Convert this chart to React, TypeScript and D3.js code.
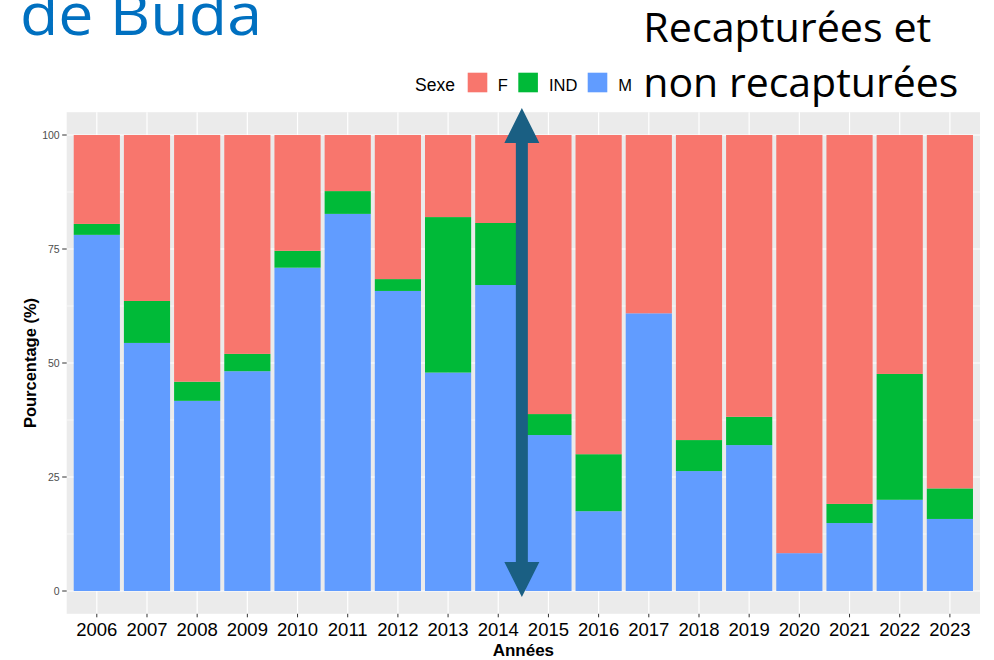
import React from "react";
import * as d3 from "d3";

// years on the x axis
const years = [
  "2006", "2007", "2008", "2009", "2010", "2011", "2012", "2013", "2014",
  "2015", "2016", "2017", "2018", "2019", "2020", "2021", "2022", "2023",
];

// percentages by sex
const pctM = [78.1, 54.4, 41.7, 48.2, 70.9, 82.7, 65.8, 47.9, 67.1, 34.2, 17.5, 60.9, 26.3, 32.0, 8.3, 14.9, 20.0, 15.8];
const pctIND = [2.4, 9.2, 4.2, 3.8, 3.7, 5.0, 2.6, 34.1, 13.6, 4.6, 12.5, 0, 6.8, 6.2, 0, 4.2, 27.6, 6.7];
const pctF = [19.5, 36.4, 54.1, 48.0, 25.4, 12.3, 31.6, 18.0, 19.3, 61.2, 70.0, 39.1, 66.9, 61.8, 91.7, 80.9, 52.4, 77.5];

const yTicks = [0, 25, 50, 75, 100];
const yMinor = [12.5, 37.5, 62.5, 87.5];

const sexes = ["F", "IND", "M"];
const colors: Record<string, string> = { F: "#F8766D", IND: "#00BA38", M: "#619CFF" };

const W = 994;
const H = 660;
const panel = { left: 66.7, right: 980, top: 112.2, bottom: 613.8 };

export default function App() {
  const rows = years.map((y, i) => ({ year: y, M: pctM[i], IND: pctIND[i], F: pctF[i] }));
  // M at the bottom, then IND, F on top
  const series = d3.stack<any>().keys(["M", "IND", "F"])(rows);

  const x = d3.scalePoint<string>().domain(years).range([panel.left, panel.right]).padding(0.6);
  const y = d3.scaleLinear().domain([-5, 105]).range([panel.bottom, panel.top]);
  const barW = x.step() * 0.92;

  // arrow sits between 2014 and 2015
  const ax = ((x("2014") as number) + (x("2015") as number)) / 2 - 1.5;
  const top = y(100) - 27;
  const bot = y(0) + 6;
  const hw = 17.5, hh = 35, sw = 6;
  const arrow = [
    [ax, top], [ax + hw, top + hh], [ax + sw, top + hh], [ax + sw, bot - hh],
    [ax + hw, bot - hh], [ax, bot], [ax - hw, bot - hh], [ax - sw, bot - hh],
    [ax - sw, top + hh], [ax - hw, top + hh],
  ];

  const legendKeys = [
    { k: "F", x: 467.7, tx: 497.7 },
    { k: "IND", x: 518.3, tx: 549 },
    { k: "M", x: 587.7, tx: 618.3 },
  ];

  return (
    <svg width={W} height={H} style={{ position: "absolute", left: 0, top: 0, background: "#fff" }}
      fontFamily="'Liberation Sans', Arial, sans-serif">
      {/* slide text */}
      <text x={20} y={35} fill="#0070C0" fontFamily="'Open Sans', sans-serif" fontSize={58}
        textLength={242} lengthAdjust="spacingAndGlyphs">de Buda</text>
      <text x={643.3} y={41.7} fill="#000" fontFamily="'Open Sans', sans-serif" fontSize={40}
        textLength={288} lengthAdjust="spacingAndGlyphs">Recapturées et</text>
      <text x={643.3} y={97} fill="#000" fontFamily="'Open Sans', sans-serif" fontSize={40}
        textLength={315} lengthAdjust="spacingAndGlyphs">non recapturées</text>

      {/* legend */}
      <text x={415} y={90.7} fontSize={17.5} fill="#000">Sexe</text>
      {legendKeys.map((d) => (
        <g key={d.k}>
          <rect x={d.x} y={72.7} width={19.6} height={19.6} fill={colors[d.k]} />
          <text x={d.tx} y={90.7} fontSize={16.5} fill="#000">{d.k}</text>
        </g>
      ))}

      {/* panel */}
      <rect x={panel.left} y={panel.top} width={panel.right - panel.left} height={panel.bottom - panel.top} fill="#EBEBEB" />
      {yMinor.map((t) => (
        <line key={"mn" + t} x1={panel.left} x2={panel.right} y1={y(t)} y2={y(t)} stroke="#fff" strokeWidth={0.6} />
      ))}
      {yTicks.map((t) => (
        <line key={"mj" + t} x1={panel.left} x2={panel.right} y1={y(t)} y2={y(t)} stroke="#fff" strokeWidth={1.2} />
      ))}
      {years.map((yr) => (
        <line key={"vx" + yr} x1={x(yr)} x2={x(yr)} y1={panel.top} y2={panel.bottom} stroke="#fff" strokeWidth={1.2} />
      ))}

      {/* bars */}
      {series.map((s) => (
        <g key={s.key} fill={colors[s.key]}>
          {s.map((d: any) => (
            d[1] - d[0] > 0 ? (
              <rect key={d.data.year} x={(x(d.data.year) as number) - barW / 2} y={y(d[1])}
                width={barW} height={y(d[0]) - y(d[1])} />
            ) : null
          ))}
        </g>
      ))}

      {/* y axis */}
      {yTicks.map((t) => (
        <g key={"yt" + t}>
          <line x1={panel.left - 4.5} x2={panel.left} y1={y(t)} y2={y(t)} stroke="#333" strokeWidth={1} />
          <text x={panel.left - 7} y={y(t)} dy="0.35em" textAnchor="end" fontSize={10.5} fill="#4D4D4D">{t}</text>
        </g>
      ))}
      <text transform={`translate(35.5, ${y(50)}) rotate(-90)`} textAnchor="middle" fontSize={16.5}
        fontWeight="bold" fill="#000">Pourcentage (%)</text>

      {/* x axis */}
      {years.map((yr) => (
        <g key={"xt" + yr}>
          <line x1={x(yr)} x2={x(yr)} y1={panel.bottom} y2={panel.bottom + 3.5} stroke="#333" strokeWidth={1} />
          <text x={x(yr)} y={636} textAnchor="middle" fontSize={18.5} fill="#000">{yr}</text>
        </g>
      ))}
      <text x={(panel.left + panel.right) / 2} y={656} textAnchor="middle" fontSize={17} fontWeight="bold" fill="#000">Années</text>

      {/* double arrow */}
      <polygon points={arrow.map((p) => p.join(",")).join(" ")} fill="#1A5F83" />
    </svg>
  );
}
